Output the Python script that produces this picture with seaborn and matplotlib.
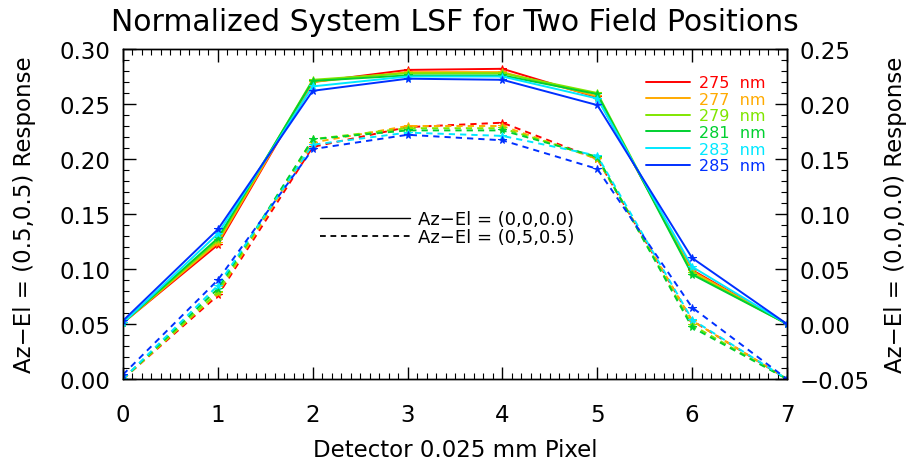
import pandas as pd
import seaborn as sns
import matplotlib.pyplot as plt
from matplotlib.lines import Line2D
from matplotlib.ticker import MultipleLocator, FuncFormatter

# detector pixels and wavelengths
pixels = [0, 1, 2, 3, 4, 5, 6, 7]
wavelengths = ['275', '277', '279', '281', '283', '285']
line_colors = ['#ff0000', '#ffaa00', '#80e600', '#00d030', '#00e8ff', '#0030ff']

# Az-El = (0.0,0.0) response (right axis)
center_275 = [0.001, 0.072, 0.220, 0.231, 0.232, 0.206, 0.049, 0.000]
center_277 = [0.001, 0.074, 0.220, 0.229, 0.229, 0.207, 0.048, 0.000]
center_279 = [0.001, 0.076, 0.222, 0.228, 0.228, 0.210, 0.046, 0.000]
center_281 = [0.001, 0.078, 0.221, 0.226, 0.226, 0.209, 0.045, 0.000]
center_283 = [0.001, 0.082, 0.216, 0.225, 0.225, 0.205, 0.052, 0.000]
center_285 = [0.003, 0.086, 0.212, 0.223, 0.222, 0.199, 0.060, 0.000]

# Az-El = (0.5,0.5) response (left axis)
field_275 = [0.000, 0.076, 0.211, 0.229, 0.233, 0.200, 0.053, 0.000]
field_277 = [0.000, 0.078, 0.215, 0.230, 0.230, 0.200, 0.053, 0.000]
field_279 = [0.000, 0.079, 0.218, 0.228, 0.228, 0.201, 0.049, 0.000]
field_281 = [0.000, 0.082, 0.218, 0.226, 0.226, 0.202, 0.047, 0.000]
field_283 = [0.000, 0.085, 0.213, 0.224, 0.221, 0.203, 0.054, 0.000]
field_285 = [0.004, 0.090, 0.209, 0.222, 0.217, 0.191, 0.065, 0.000]

center = [center_275, center_277, center_279, center_281, center_283, center_285]
field = [field_275, field_277, field_279, field_281, field_283, field_285]


def to_long(series):
    rows = []
    for wl, vals in zip(wavelengths, series):
        for p, v in zip(pixels, vals):
            rows.append({'pixel': p, 'resp': v, 'wl': wl})
    return pd.DataFrame(rows)


center_df = to_long(center)
field_df = to_long(field)
palette = dict(zip(wavelengths, line_colors))

sns.set_style('ticks')
plt.rcParams['font.family'] = ['DejaVu Sans']
plt.rcParams['text.color'] = 'black'
plt.rcParams['axes.labelcolor'] = 'black'

fig = plt.figure(figsize=(9.17, 4.64), dpi=100)
ax = fig.add_axes([123 / 917, 84 / 464, 664 / 917, 330 / 464])
ax2 = ax.twinx()

sns.lineplot(data=field_df, x='pixel', y='resp', hue='wl', palette=palette,
             hue_order=wavelengths, marker='*', markersize=5.5, lw=1.4,
             linestyle=(0, (3.2, 2.6)), legend=False, ax=ax)
sns.lineplot(data=center_df, x='pixel', y='resp', hue='wl', palette=palette,
             hue_order=wavelengths, marker='*', markersize=5.5, lw=1.4,
             legend=False, ax=ax2)
for a in (ax, ax2):
    for ln in a.lines:
        ln.set_markeredgecolor(ln.get_color())

ax.set_xlim(0, 7)
ax.set_ylim(0, 0.30)
ax2.set_ylim(-0.05, 0.25)

fmt = FuncFormatter(lambda v, _: f'{round(v, 4) + 0:.2f}'.replace('-', '\u2212'))
for a in (ax, ax2):
    a.yaxis.set_major_locator(MultipleLocator(0.05))
    a.yaxis.set_minor_locator(MultipleLocator(0.01))
    a.yaxis.set_major_formatter(fmt)
ax.xaxis.set_major_locator(MultipleLocator(1))
ax.xaxis.set_minor_locator(MultipleLocator(0.1))

ax.tick_params(which='both', direction='in', top=True, right=False,
               labelsize=16.5, colors='black')
ax.tick_params(axis='y', pad=9)
ax.tick_params(axis='x', pad=17)
ax.tick_params(which='major', length=9, width=1)
ax.tick_params(which='minor', length=4.5, width=0.8)
ax2.tick_params(which='both', direction='in', right=True, left=False,
                labelsize=16.5, pad=9, colors='black')
ax2.tick_params(which='major', length=9, width=1)
ax2.tick_params(which='minor', length=4.5, width=0.8)
for a in (ax, ax2):
    for s in a.spines.values():
        s.set_visible(True)
        s.set_color('black')
        s.set_linewidth(1)

ax.set_xlabel('Detector 0.025 mm Pixel', fontsize=16.5, labelpad=9)
ax.set_ylabel('Az\u2212El = (0.5,0.5) Response', fontsize=16.5, labelpad=17)
ax2.set_ylabel('Az\u2212El = (0.0,0.0) Response', fontsize=16.5, labelpad=10)
fig.text(0.496, 0.952, 'Normalized System LSF for Two Field Positions',
         ha='center', va='center', fontsize=21.5, color='black')

# wavelength legend
wl_handles = [Line2D([], [], color=c, lw=1.4) for c in line_colors]
leg1 = ax2.legend(wl_handles, [f'{w}  nm' for w in wavelengths],
                  loc='upper left', bbox_to_anchor=(0.775, 0.945),
                  frameon=False, fontsize=11.5, handlelength=2.8,
                  handletextpad=0.55, labelspacing=0.1, borderpad=0,
                  labelcolor='linecolor')
ax2.add_artist(leg1)

# line style legend
style_handles = [Line2D([], [], color='black', lw=1.0),
                 Line2D([], [], color='black', lw=1.3, linestyle=(0, (3.2, 2.6)))]
ax2.legend(style_handles, ['Az\u2212El = (0,0,0.0)', 'Az\u2212El = (0,5,0.5)'],
           loc='upper left', bbox_to_anchor=(0.283, 0.54), frameon=False,
           fontsize=13, handlelength=5.0, handletextpad=0.45,
           labelspacing=0.0, borderpad=0)

fig.savefig('out.png', dpi=100)
